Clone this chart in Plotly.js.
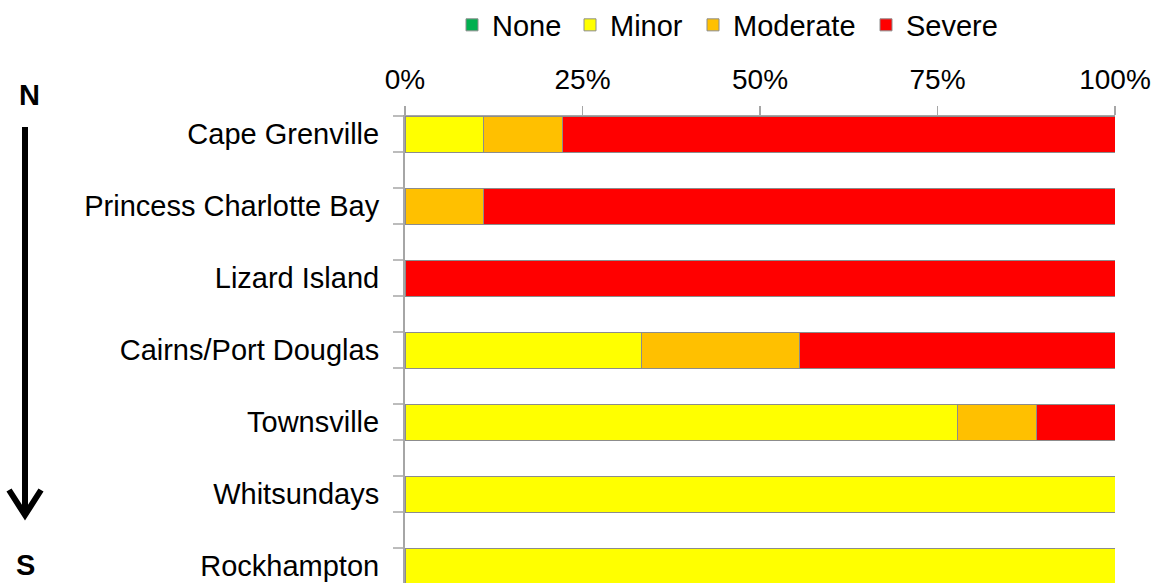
<!DOCTYPE html>
<html>
<head>
<meta charset="utf-8">
<script src="https://cdn.plot.ly/plotly-3.0.1.min.js"></script>
<style>html,body{margin:0;padding:0;background:#fff;}#chart{width:1159px;height:583px;}</style>
</head>
<body>
<div id="chart"></div>
<script>
// Data (percent of reefs per bleaching category), ordered north to south
const regions = ["Cape Grenville", "Princess Charlotte Bay", "Lizard Island", "Cairns/Port Douglas", "Townsville", "Whitsundays", "Rockhampton"];
const noneVals = [0, 0, 0, 0, 0, 0, 0];
const minorVals = [11.1, 0, 0, 33.3, 77.8, 100, 100];
const moderateVals = [11.1, 11.1, 0, 22.2, 11.1, 0, 0];
const severeVals = [77.8, 88.9, 100, 44.5, 11.1, 0, 0];
const xTicks = [0, 25, 50, 75, 100];
const xTickText = ["0%", "25%", "50%", "75%", "100%"];

const W = 1159, H = 583;
const mL = 405, mR = 44, mT = 116, mB = 0;
const pw = W - mL - mR, ph = H - mT - mB;
const px = v => (v - mL) / pw;          // pixel x -> paper x
const py = v => (H - mB - v) / ph;      // pixel y -> paper y
const yRange = [6.236, -0.25];
const catToPaper = c => (yRange[0] - c) / (yRange[0] - yRange[1]);

const outline = {color: "#8c8c8c", width: 1};
const mk = (name, vals, color, lg) => ({
  type: "bar", orientation: "h", name: name, x: vals, y: regions, legend: lg,
  marker: {color: color, line: outline}, width: 0.5, hoverinfo: "x+name"
});

const traces = [
  mk("None", noneVals, "#00B050", "legend"),
  mk("Minor", minorVals, "#FFFF00", "legend2"),
  mk("Moderate", moderateVals, "#FFC000", "legend3"),
  mk("Severe", severeVals, "#FF0000", "legend4")
];

// tick marks at bar edges on the category axis
const shapes = [];
regions.forEach((r, i) => {
  [i - 0.25, i + 0.25].forEach(c => {
    const yp = catToPaper(c);
    shapes.push({type: "line", xref: "paper", yref: "paper", x0: px(393), x1: px(405),
      y0: yp, y1: yp, line: {color: "#a6a6a6", width: 1.5}});
  });
});
// N -> S arrow
shapes.push({type: "line", xref: "paper", yref: "paper", x0: px(25), x1: px(25), y0: py(127), y1: py(514),
  line: {color: "#000", width: 6}});
shapes.push({type: "path", xref: "paper", yref: "paper",
  path: "M" + px(9) + "," + py(490) + " L" + px(25) + "," + py(515) + " L" + px(41) + "," + py(490),
  line: {color: "#000", width: 6}});

const annotations = [
  {text: "<b>N</b>", xref: "paper", yref: "paper", x: px(29), y: py(95), xanchor: "center", yanchor: "middle",
   showarrow: false, font: {family: "Liberation Sans, Arial, sans-serif", size: 29, color: "#000"}},
  {text: "<b>S</b>", xref: "paper", yref: "paper", x: px(25), y: py(565), xanchor: "center", yanchor: "middle",
   showarrow: false, font: {family: "Liberation Sans, Arial, sans-serif", size: 29, color: "#000"}}
];

const legendBase = x => ({orientation: "h", x: px(x), xanchor: "left",
  yref: "container", y: 1 - 25 / H, yanchor: "middle",
  font: {size: 29}, itemclick: false, bgcolor: "rgba(0,0,0,0)"});

const layout = {
  width: W, height: H,
  margin: {l: mL, r: mR, t: mT, b: mB, pad: 0, autoexpand: false},
  paper_bgcolor: "#fff", plot_bgcolor: "#fff",
  barmode: "stack",
  font: {family: "Liberation Sans, Arial, sans-serif", size: 28, color: "#000"},
  showlegend: true,
  legend: legendBase(452),
  legend2: legendBase(570),
  legend3: legendBase(693),
  legend4: legendBase(866),
  xaxis: {side: "top", range: [0, 100], autorange: false, tickmode: "array", tickvals: xTicks, ticktext: xTickText,
    showgrid: false, zeroline: false, showline: true, linecolor: "#a6a6a6", linewidth: 1.5,
    ticks: "outside", ticklen: 9, tickcolor: "#a6a6a6", tickwidth: 1.5, ticklabelstandoff: 5,
    tickfont: {size: 28, color: "#000"}},
  yaxis: {type: "category", categoryorder: "array", categoryarray: regions,
    range: yRange, autorange: false, showgrid: false, zeroline: false,
    showline: true, linecolor: "#a6a6a6", linewidth: 2, ticks: "", ticklabelstandoff: 18,
    tickfont: {size: 29, color: "#000"}},
  shapes: shapes,
  annotations: annotations
};

Plotly.newPlot("chart", traces, layout, {displayModeBar: false, staticPlot: true});
</script>
</body>
</html>
